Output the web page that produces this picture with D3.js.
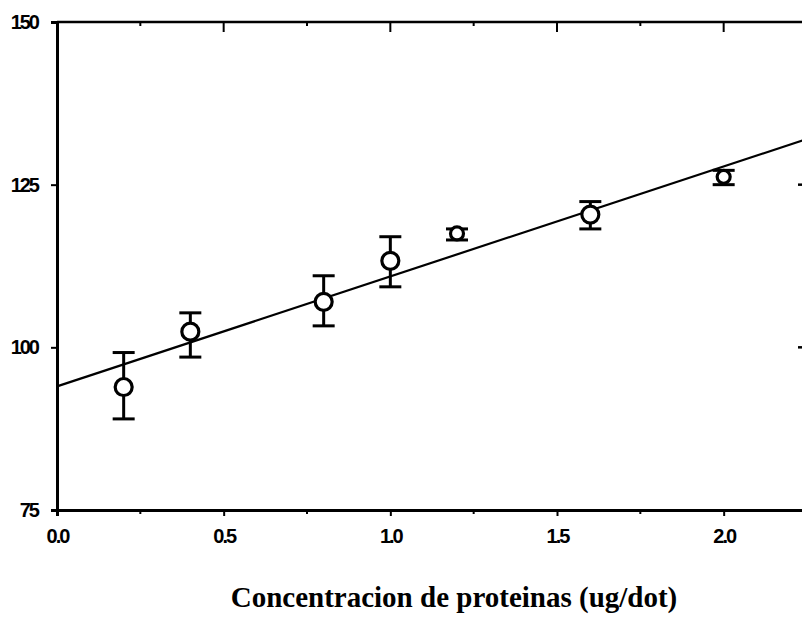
<!DOCTYPE html>
<html>
<head>
<meta charset="utf-8">
<script src="https://cdn.jsdelivr.net/npm/d3@7"></script>
<style>
  body { margin: 0; background: #fff; }
  svg { display: block; }
</style>
</head>
<body>
<svg id="chart" width="802" height="618"></svg>
<script>
// datos
const concentracion = [0.2, 0.4, 0.8, 1.0, 1.2, 1.6, 2.0]
const media = [93.9, 102.4, 107.0, 113.3, 117.5, 120.4, 126.2]
const errSup = [99.2, 105.3, 111.0, 117.0, 118.2, 122.4, 127.2]
const errInf = [89.0, 98.5, 103.3, 109.3, 116.5, 118.2, 125.0]
const ticksX = [0, 0.5, 1.0, 1.5, 2.0]
const ticksY = [75, 100, 125, 150]
const recta = { corte: 94.0, pendiente: 16.9 }

const svg = d3.select('#chart')

const x = d3.scaleLinear().domain([0, 2.25]).range([57, 807])
const y = d3.scaleLinear().domain([75, 150]).range([510, 22])

const puntos = concentracion.map((c, i) => ({ c, m: media[i], sup: errSup[i], inf: errInf[i] }))

const fuenteEje = 'Liberation Sans, Arial, sans-serif'

// ejes
const ejeAbajo = d3.axisBottom(x).tickValues(ticksX).tickFormat(d3.format('.1f')).tickSize(6).tickPadding(13)
const ejeIzq = d3.axisLeft(y).tickValues(ticksY).tickSize(6).tickPadding(13)

const gx = svg.append('g').attr('transform', `translate(0,${y(75)})`).call(ejeAbajo)
const gy = svg.append('g').attr('transform', `translate(${x(0)},0)`).call(ejeIzq)

;[gx, gy].forEach(g => g
    .attr('font-family', fuenteEje)
    .attr('font-size', 20)
    .attr('font-weight', 'bold'))

svg.selectAll('.tick text')
    .attr('letter-spacing', '-2')
    .attr('fill', '#000')

// ticks menores abajo
svg.append('g').selectAll('line')
    .data([0.25, 0.75, 1.25, 1.75, 2.25])
    .enter().append('line')
    .attr('x1', d => x(d)).attr('x2', d => x(d))
    .attr('y1', y(75)).attr('y2', y(75) + 4)
    .attr('stroke', '#000').attr('stroke-width', 2)

// eje de arriba, ticks hacia dentro
svg.append('line')
    .attr('x1', x(0)).attr('x2', 802).attr('y1', y(150)).attr('y2', y(150))
    .attr('stroke', '#000').attr('stroke-width', 2.5)
svg.append('g').selectAll('line')
    .data([0.25, 0.5, 0.75, 1.0, 1.25, 1.5, 1.75, 2.0])
    .enter().append('line')
    .attr('x1', d => x(d)).attr('x2', d => x(d))
    .attr('y1', y(150)).attr('y2', d => y(150) + (d % 0.5 === 0 ? 10 : 4))
    .attr('stroke', '#000').attr('stroke-width', 2)

// ticks del eje derecho (casi fuera de la imagen)
svg.append('g').selectAll('line')
    .data([100, 125])
    .enter().append('line')
    .attr('x1', 798).attr('x2', 802)
    .attr('y1', d => y(d)).attr('y2', d => y(d))
    .attr('stroke', '#000').attr('stroke-width', 2.5)

svg.selectAll('.domain').attr('stroke', '#000').attr('stroke-width', 3)
svg.selectAll('.tick line').attr('stroke', '#000').attr('stroke-width', 2)

// recta de regresion
svg.append('line')
    .attr('x1', x(0)).attr('y1', y(recta.corte))
    .attr('x2', x(2.25)).attr('y2', y(recta.corte + recta.pendiente * 2.25))
    .attr('stroke', '#000').attr('stroke-width', 2.2)

// barras de error
const barras = svg.append('g').selectAll('g').data(puntos).enter().append('g')
    .attr('stroke', '#000').attr('stroke-width', 3)
barras.append('line')
    .attr('x1', d => x(d.c)).attr('x2', d => x(d.c))
    .attr('y1', d => y(d.sup)).attr('y2', d => y(d.inf))
barras.append('line')
    .attr('x1', d => x(d.c) - 11).attr('x2', d => x(d.c) + 11)
    .attr('y1', d => y(d.sup)).attr('y2', d => y(d.sup))
barras.append('line')
    .attr('x1', d => x(d.c) - 11).attr('x2', d => x(d.c) + 11)
    .attr('y1', d => y(d.inf)).attr('y2', d => y(d.inf))

// circulos
svg.append('g').selectAll('circle').data(puntos).enter().append('circle')
    .attr('cx', d => x(d.c)).attr('cy', d => y(d.m))
    .attr('r', d => (d.sup - d.inf) < 3 ? 6.5 : 8.5)
    .attr('fill', '#fff').attr('stroke', '#000').attr('stroke-width', 3.2)

// titulo del eje x
svg.append('text')
    .attr('x', 454).attr('y', 607)
    .attr('text-anchor', 'middle')
    .attr('font-family', 'Liberation Serif, Times New Roman, serif')
    .attr('font-weight', 'bold')
    .attr('font-size', '29px')
    .text('Concentracion de proteinas (ug/dot)')
</script>
</body>
</html>
